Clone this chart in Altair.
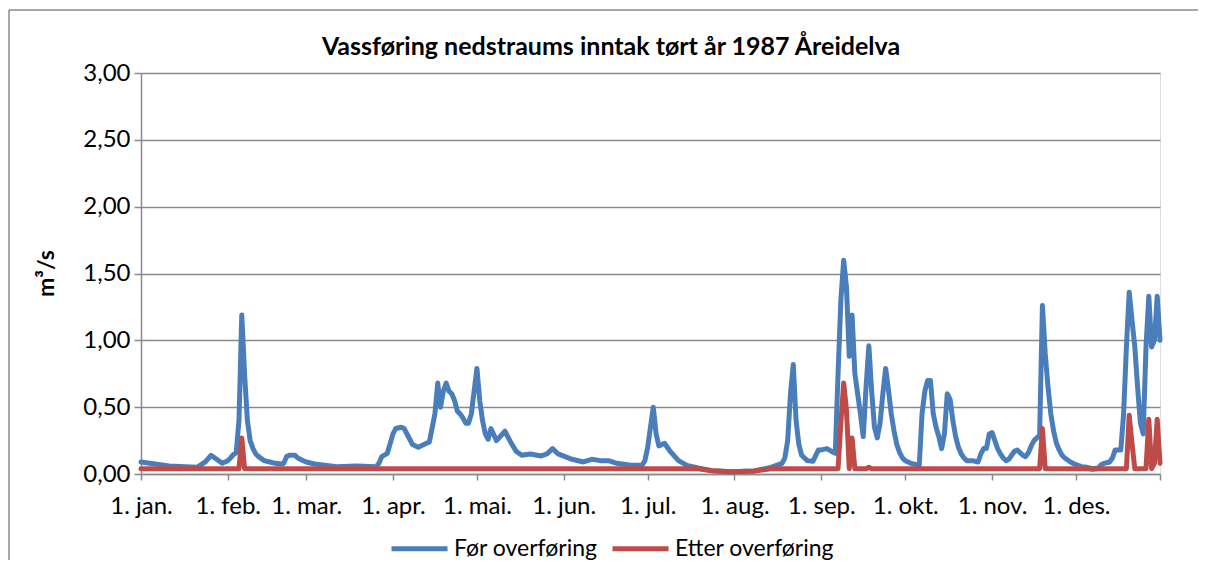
import altair as alt
import pandas as pd

title_text = "Vassføring nedstraums inntak tørt år 1987 Åreidelva"
y_title = "m³/s"
series_names = ["Før overføring", "Etter overføring"]
series_colors = ["#4A7EBB", "#BE4B48"]

# x axis: days since 1 Jan 1987 where each month starts
month_start_days = [0, 31, 59, 90, 120, 151, 181, 212, 243, 273, 304, 334]
month_labels = ["1. jan.", "1. feb.", "1. mar.", "1. apr.", "1. mai.", "1. jun.",
                "1. jul.", "1. aug.", "1. sep.", "1. okt.", "1. nov.", "1. des."]
last_day = 364
y_ticks = [0, 0.5, 1.0, 1.5, 2.0, 2.5, 3.0]

# Før overføring (days since 1 Jan, m3/s)
blue_day = [0, 5, 10, 20, 23, 25, 27, 29, 31, 32, 33, 34, 35, 36, 37, 38, 39, 40, 41, 42,
            44, 46, 48, 50, 51, 52, 53, 55, 56, 58, 59, 62, 70, 77, 84, 85, 86, 88, 90, 91,
            93, 94, 96, 97, 99, 102, 103, 105, 106, 107, 108, 109, 110, 111, 112, 113, 114, 115, 116, 117,
            118, 119, 120, 121, 122, 123, 124, 125, 127, 130, 132, 134, 136, 139, 143, 145, 147, 149, 154, 158,
            161, 164, 167, 170, 175, 179, 180, 181, 183, 184, 185, 187, 189, 192, 195, 199, 204, 211, 219, 225,
            229, 230, 231, 232, 233, 234, 235, 236, 238, 240, 242, 243, 245, 247, 248, 249, 250, 251, 252, 253,
            254, 255, 256, 257, 258, 259, 260, 261, 262, 263, 264, 265, 266, 267, 268, 269, 270, 271, 272, 273,
            274, 275, 276, 277, 278, 279, 280, 281, 282, 283, 284, 285, 286, 287, 288, 289, 290, 291, 292, 293,
            294, 295, 297, 299, 300, 301, 302, 303, 304, 305, 306, 307, 308, 309, 310, 311, 312, 313, 314, 315,
            316, 317, 318, 319, 320, 321, 322, 323, 324, 325, 326, 327, 328, 329, 330, 332, 334, 336, 338, 340,
            342, 343, 344, 346, 347, 348, 349, 350, 351, 352, 353, 354, 355, 356, 357, 358, 359, 360, 361, 362,
            363, 364]
blue_value = [0.09, 0.075, 0.06, 0.05, 0.09, 0.14, 0.11, 0.08, 0.10, 0.12, 0.145, 0.16, 0.40, 1.19, 0.75, 0.40, 0.25, 0.19, 0.15, 0.13,
              0.10, 0.09, 0.08, 0.075, 0.08, 0.13, 0.14, 0.14, 0.12, 0.10, 0.09, 0.075, 0.055, 0.06, 0.055, 0.08, 0.13, 0.155, 0.30, 0.34,
              0.35, 0.34, 0.26, 0.22, 0.20, 0.23, 0.24, 0.45, 0.68, 0.50, 0.62, 0.68, 0.62, 0.60, 0.55, 0.47, 0.45, 0.42, 0.38, 0.38,
              0.45, 0.62, 0.79, 0.55, 0.40, 0.30, 0.26, 0.34, 0.25, 0.32, 0.24, 0.17, 0.14, 0.15, 0.135, 0.15, 0.19, 0.15, 0.11, 0.09,
              0.11, 0.10, 0.10, 0.08, 0.065, 0.065, 0.10, 0.20, 0.50, 0.30, 0.21, 0.23, 0.17, 0.10, 0.065, 0.045, 0.025, 0.017, 0.022, 0.05,
              0.08, 0.12, 0.25, 0.60, 0.82, 0.40, 0.22, 0.14, 0.10, 0.095, 0.18, 0.18, 0.19, 0.165, 0.155, 0.75, 1.30, 1.60, 1.40, 0.88,
              1.19, 0.75, 0.60, 0.45, 0.28, 0.65, 0.96, 0.62, 0.35, 0.27, 0.38, 0.60, 0.79, 0.63, 0.45, 0.32, 0.22, 0.16, 0.12, 0.10,
              0.09, 0.08, 0.075, 0.07, 0.065, 0.45, 0.62, 0.70, 0.70, 0.45, 0.35, 0.28, 0.19, 0.30, 0.60, 0.56, 0.40, 0.28, 0.20, 0.15,
              0.12, 0.10, 0.10, 0.09, 0.15, 0.19, 0.19, 0.30, 0.31, 0.25, 0.19, 0.15, 0.12, 0.10, 0.11, 0.14, 0.17, 0.18, 0.16, 0.14,
              0.13, 0.16, 0.21, 0.25, 0.27, 0.29, 1.26, 0.90, 0.65, 0.45, 0.32, 0.23, 0.18, 0.14, 0.12, 0.09, 0.07, 0.055, 0.05, 0.04,
              0.045, 0.07, 0.08, 0.09, 0.12, 0.18, 0.18, 0.18, 0.45, 0.95, 1.36, 1.15, 0.95, 0.65, 0.38, 0.30, 0.95, 1.33, 0.95, 1.00,
              1.33, 1.00]

# Etter overføring (days since 1 Jan, m3/s)
red_day = [0, 35, 36, 37, 199, 204, 211, 219, 225, 249, 250, 251, 252, 253, 254, 255, 259, 260, 261,
           321, 322, 323, 338, 340, 342, 352, 353, 354, 355, 359, 360, 361, 362, 363, 364]
red_value = [0.04, 0.04, 0.27, 0.04, 0.04, 0.025, 0.017, 0.022, 0.04, 0.04, 0.38, 0.68, 0.48, 0.04, 0.27, 0.04, 0.04, 0.05, 0.04,
             0.04, 0.34, 0.04, 0.04, 0.035, 0.04, 0.04, 0.44, 0.23, 0.04, 0.04, 0.41, 0.04, 0.08, 0.41, 0.08]

FONT = "Lato"
GRID = "#8a8a8a"
LW = 5

df_blue = pd.DataFrame({"day": blue_day, "value": blue_value, "serie": series_names[0]})
df_red = pd.DataFrame({"day": red_day, "value": red_value, "serie": series_names[1]})

tick_days = month_start_days + [last_day]
label_expr = ("datum.value >= %d ? '' : [%s][indexof([%s], datum.value)]" % (
    last_day,
    ",".join("'%s'" % s for s in month_labels),
    ",".join(str(d) for d in month_start_days)))

x_enc = alt.X("day:Q",
              scale=alt.Scale(domain=[0, last_day], nice=False, zero=False),
              axis=alt.Axis(values=tick_days, labelExpr=label_expr, title=None, grid=False,
                            tickSize=6, tickColor=GRID, tickWidth=1.5, domainColor=GRID, domainWidth=1.5,
                            labelFont=FONT, labelFontSize=24, labelColor="#000000", labelPadding=14,
                            labelOverlap=False, labelFlush=False, labelBound=False))
y_enc = alt.Y("value:Q",
              scale=alt.Scale(domain=[0, 3], nice=False),
              axis=alt.Axis(values=y_ticks, labelExpr="replace(format(datum.value, '.2f'), '.', ',')",
                            title=y_title, titleFont=FONT, titleFontSize=23, titleFontWeight="bold",
                            titleColor="#000000", titleX=-95, titleY=200, titleAngle=270,
                            titleAlign="center", titleBaseline="middle",
                            grid=True, gridColor=GRID, gridWidth=1.5,
                            tickSize=7, tickColor=GRID, tickWidth=1.5, domainColor=GRID, domainWidth=1.5,
                            labelFont=FONT, labelFontSize=24, labelColor="#000000", labelPadding=4))
color_enc = alt.Color("serie:N",
                      scale=alt.Scale(domain=series_names, range=series_colors),
                      legend=alt.Legend(orient="none", legendX=266, legendY=463, direction="horizontal",
                                        title=None, symbolType="M-2.8,0H2.8", symbolSize=400,
                                        symbolStrokeWidth=LW, labelFont=FONT, labelFontSize=23,
                                        labelColor="#000000", columnPadding=4, labelOffset=22, padding=0))

blue = alt.Chart(df_blue).mark_line(strokeWidth=LW, strokeJoin="round", strokeCap="round").encode(
    x=x_enc, y=y_enc, color=color_enc)
red = alt.Chart(df_red).mark_line(strokeWidth=LW, strokeJoin="round", strokeCap="round").encode(
    x="day:Q", y="value:Q", color="serie:N")

one_row = pd.DataFrame({"k": [0]})
frame_top = alt.Chart(one_row).mark_rule(color=GRID, strokeWidth=1.5, clip=False).encode(
    x=alt.value(-132), x2=alt.value(1059), y=alt.value(-63))
frame_left = alt.Chart(one_row).mark_rule(color=GRID, strokeWidth=1.5, clip=False).encode(
    x=alt.value(-132), y=alt.value(-63), y2=alt.value(600))
title_mark = alt.Chart(one_row).mark_text(
    font=FONT, fontSize=25, fontWeight="bold", color="#000000", align="center",
    baseline="alphabetic", clip=False).encode(
    x=alt.value(470), y=alt.value(-18), text=alt.value(title_text))

chart = alt.layer(blue, red, frame_top, frame_left, title_mark).properties(
    width=1019, height=401,
    autosize=alt.AutoSizeParams(type="none"),
    padding={"left": 133, "top": 65, "right": 38, "bottom": 86},
).configure_view(strokeWidth=0).configure(background="#ffffff")

chart.save("out.html", embed_options={"renderer": "svg", "actions": False})
